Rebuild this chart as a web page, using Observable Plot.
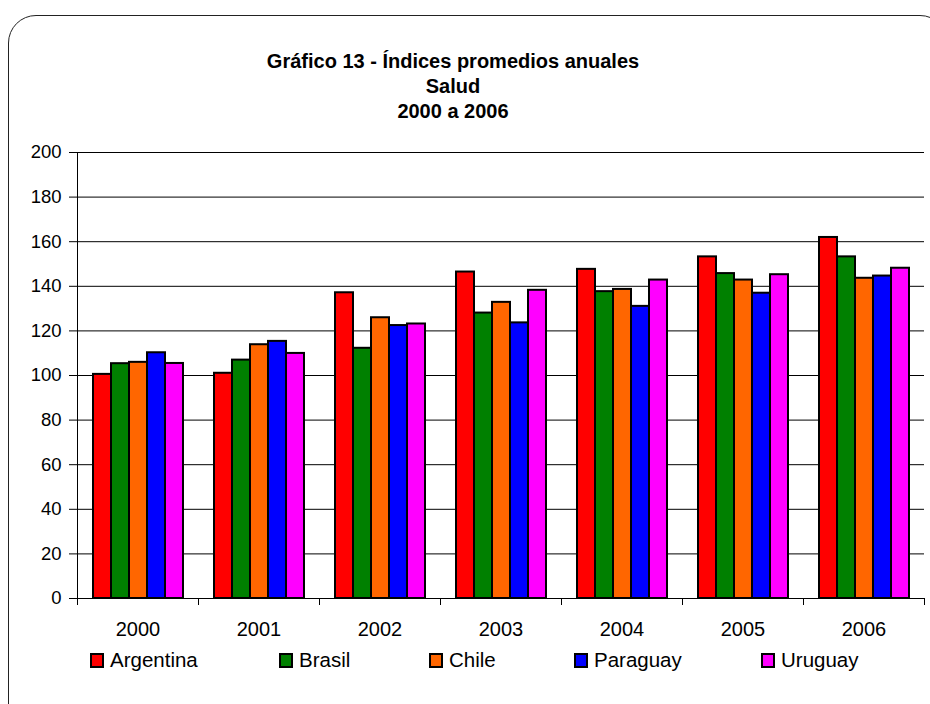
<!DOCTYPE html>
<html>
<head>
<meta charset="utf-8">
<script src="https://cdn.jsdelivr.net/npm/d3@7"></script>
<script src="https://cdn.jsdelivr.net/npm/@observablehq/plot@0.6"></script>
<style>
  html, body { margin: 0; padding: 0; background: #fff; width: 930px; height: 704px; overflow: hidden; }
  body { position: relative; font-family: "Liberation Sans", Arial, sans-serif; color: #000; }
  #box { position: absolute; left: 8px; top: 15px; width: 940px; height: 720px; border: 1.5px solid #222; border-radius: 28px; box-sizing: border-box; }
  #title { position: absolute; left: 0; top: 49px; width: 906px; text-align: center; font-weight: bold; font-size: 20px; line-height: 25px; }
  #chart { position: absolute; left: 0; top: 130px; }
  #legend { position: absolute; left: 90px; top: 648px; display: flex; font-size: 20.5px; }
  .item { display: flex; align-items: center; }
  .sw { width: 10px; height: 11px; border: 2px solid #000; margin-right: 6px; }
</style>
</head>
<body>
<div id="box"></div>
<div id="title">Gráfico 13 - Índices promedios anuales<br>Salud<br>2000 a 2006</div>
<div id="chart"></div>
<div id="legend"></div>
<script>
const years = ["2000", "2001", "2002", "2003", "2004", "2005", "2006"];
const countries = ["Argentina", "Brasil", "Chile", "Paraguay", "Uruguay"];
const argentina = [100.5, 101.0, 137.1, 146.4, 147.6, 153.2, 161.9];
const brasil    = [105.3, 106.9, 112.2, 128.0, 137.6, 145.7, 153.2];
const chile     = [105.9, 113.8, 125.9, 132.8, 138.6, 142.8, 143.6];
const paraguay  = [110.2, 115.3, 122.4, 123.6, 131.0, 136.9, 144.6];
const uruguay   = [105.4, 109.9, 123.1, 138.2, 142.8, 145.2, 148.1];
const yTicks = [0, 20, 40, 60, 80, 100, 120, 140, 160, 180, 200];
const colors = ["#ff0000", "#008000", "#ff6600", "#0000ff", "#ff00ff"];

const series = [argentina, brasil, chile, paraguay, uruguay];
const rows = years.flatMap((yr, i) => countries.map((c, j) => ({year: yr, country: c, value: series[j][i]})));

const H = 513, mt = 22, mb = 45;
const innerH = H - mt - mb;

const chart = Plot.plot({
  width: 930,
  height: H,
  marginTop: mt,
  marginBottom: mb,
  marginLeft: 76,
  marginRight: 6,
  style: {fontFamily: "'Liberation Sans', Arial, sans-serif", fontSize: "18.5px", color: "#000", background: "transparent", overflow: "visible"},
  fx: {domain: years, padding: 0, label: null, axis: null},
  x: {domain: countries, paddingInner: 0, paddingOuter: 0.76, axis: null},
  y: {domain: [0, 200], ticks: yTicks, tickSize: 8, tickPadding: 8, line: true, label: null, grid: false},
  color: {domain: countries, range: colors},
  marks: [
    Plot.gridY(yTicks, {stroke: "#000", strokeOpacity: 1, strokeWidth: 1}),
    Plot.ruleY([0], {stroke: "#000"}),
    Plot.barY(rows, {fx: "year", x: "country", y: "value", fill: "country", stroke: "#000", strokeWidth: 2}),
    Plot.frame({anchor: "left", insetTop: innerH, insetBottom: -6, stroke: "#000"}),
    Plot.frame({anchor: "right", insetTop: innerH, insetBottom: -6, stroke: "#000"}),
    Plot.axisFx({anchor: "bottom", tickSize: 0, tickPadding: 23, label: null, fontSize: 20})
  ]
});
document.getElementById("chart").appendChild(chart);

const legend = document.getElementById("legend");
const slot = [189, 150, 145, 187, 120];
countries.forEach((c, i) => {
  const it = document.createElement("div");
  it.className = "item";
  it.style.width = slot[i] + "px";
  const sw = document.createElement("div");
  sw.className = "sw";
  sw.style.background = colors[i];
  const t = document.createElement("span");
  t.textContent = c;
  it.appendChild(sw);
  it.appendChild(t);
  legend.appendChild(it);
});
</script>
</body>
</html>
